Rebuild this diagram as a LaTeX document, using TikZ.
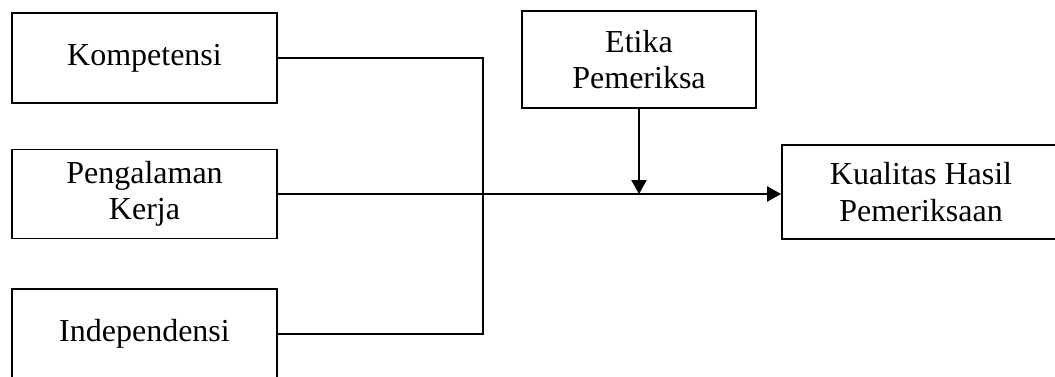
\documentclass[tikz,border=0pt]{standalone}
\usepackage{fontspec}
\setmainfont{Liberation Serif}
\usetikzlibrary{arrows.meta}
\begin{document}
\begin{tikzpicture}[x=1pt,y=-1pt,
  box/.style={draw=black,line width=1.8pt,minimum width=#1,inner sep=0pt,align=center,
    font=\fontsize{32}{36.5}\selectfont},
  conn/.style={draw=black,line width=2.2pt},
  tip/.style={-{Triangle[length=14pt,width=15pt]}}]
\useasboundingbox (0,0) rectangle (1055,376);
\node[box=265pt,minimum height=90pt] (komp) at (144.5,58) {Kompetensi};
\node[box=265pt,minimum height=89pt] (peng) at (144.5,194) {Pengalaman\\Kerja};
\node[box=265pt,minimum height=90pt] (indep) at (144.5,334) {Independensi};
\node[box=234pt,minimum height=97pt] (etika) at (639,59.5) {Etika\\Pemeriksa};
\node[box=278pt,minimum height=94pt] (kual) at (921,192) {Kualitas Hasil\\Pemeriksaan};
\coordinate (j) at (483,0);
\draw[conn] (komp.east) -| (j |- indep.east) -- (indep.east);
\draw[conn,tip] (peng.east) -- (peng.east -| kual.west);
\draw[conn,tip] (etika.south) -- (etika.south |- peng.east);
\end{tikzpicture}
\end{document}
